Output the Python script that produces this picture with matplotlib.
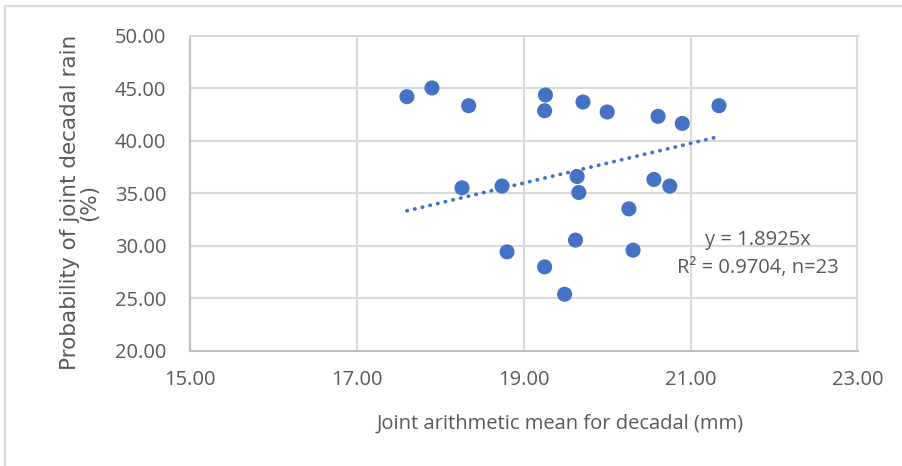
import matplotlib
matplotlib.use("Agg")
import matplotlib.pyplot as plt
from matplotlib.lines import Line2D
from matplotlib.ticker import FixedLocator, MultipleLocator, FormatStrFormatter

plt.rcParams['font.family'] = ['Open Sans', 'DejaVu Sans']

# data
mean_mm = [17.60, 17.90, 18.34, 18.26, 18.74, 19.26, 19.25, 19.71, 20.00, 20.61,
           20.90, 21.34, 19.64, 19.66, 20.56, 20.75, 20.26, 19.62, 20.31, 19.25,
           19.49, 18.80]
prob_pct = [44.19, 45.02, 43.33, 35.50, 35.67, 44.35, 42.85, 43.68, 42.73, 42.31,
            41.64, 43.33, 36.58, 35.06, 36.30, 35.67, 33.50, 30.52, 29.56, 27.97,
            25.36, 29.40]
x_ticks = [15, 17, 19, 21, 23]
slope = 1.8925
r2 = 0.9704
n = 23

blue = "#4472C4"
txt = "#595959"

fig = plt.figure(figsize=(9.03, 4.66), dpi=100)
ax = fig.add_axes([190 / 903, 1 - 350.5 / 466, 667.5 / 903, 314.8 / 466])

ax.scatter(mean_mm, prob_pct, s=118, color=blue, edgecolors="none", zorder=3)

# linear trend through origin, over the data range
x0, x1 = min(mean_mm), max(mean_mm)
ax.plot([x0, x1], [slope * x0, slope * x1], color=blue, linewidth=2.7,
        linestyle=(0, (0.1, 2.0)), dash_capstyle="round", zorder=2)

ax.set_xlim(15, 23)
ax.set_ylim(20, 50)
ax.xaxis.set_major_locator(FixedLocator(x_ticks))
ax.yaxis.set_major_locator(MultipleLocator(5))
ax.xaxis.set_major_formatter(FormatStrFormatter('%.2f'))
ax.yaxis.set_major_formatter(FormatStrFormatter('%.2f'))
ax.grid(True, color="#D9D9D9", linewidth=1.5)
ax.set_axisbelow(True)
for side in ["top", "right"]:
    ax.spines[side].set_color("#D9D9D9")
    ax.spines[side].set_linewidth(1.5)
for side in ["left", "bottom"]:
    ax.spines[side].set_color("#BFBFBF")
    ax.spines[side].set_linewidth(1.5)
ax.tick_params(axis="both", length=0, labelsize=14.5, labelcolor=txt)
ax.tick_params(axis="x", pad=14)
ax.tick_params(axis="y", pad=17)

ax.set_xlabel("Joint arithmetic mean for decadal (mm)", fontsize=14.5, color=txt, labelpad=17)
ax.xaxis.label.set_x(0.554)
ax.set_ylabel("Probability of joint decadal rain\n(%)", fontsize=15.5, color=txt,
              labelpad=11, linespacing=1.0, family=['DejaVu Sans'])
ax.yaxis.label.set_y(0.47)

ax.text(21.81, 30.55, f"y = {slope}x", fontsize=14.5, color=txt, ha="center", va="center")
ax.text(21.81, 27.85, f"R² = {r2}, n={n}", fontsize=14.5, color=txt, ha="center", va="center")

# chart area border (cut off on right and bottom)
fig.add_artist(Line2D([5 / 903, 5 / 903], [0, 1 - 6 / 466], color="#D9D9D9", linewidth=1.5))
fig.add_artist(Line2D([5 / 903, 1], [1 - 6 / 466, 1 - 6 / 466], color="#D9D9D9", linewidth=1.5))

fig.savefig("out.png", dpi=100)
